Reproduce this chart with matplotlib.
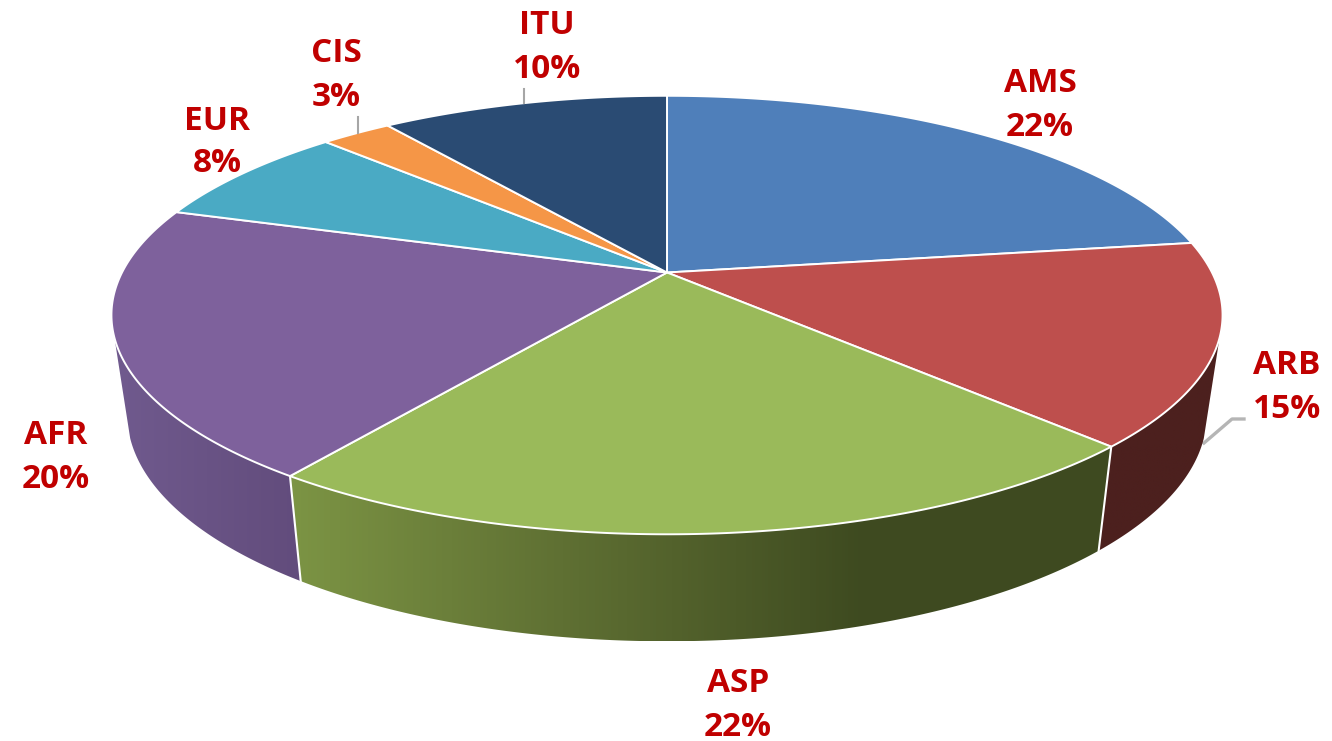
import numpy as np
import matplotlib
matplotlib.use("Agg")
import matplotlib.pyplot as plt
from matplotlib.patches import Polygon
from matplotlib.colors import LinearSegmentedColormap

categories = ["AMS", "ARB", "ASP", "AFR", "EUR", "CIS", "ITU"]
shares = [22.7, 14.9, 22.3, 20.0, 7.5, 2.5, 10.1]      # slice sizes as drawn
pct_labels = ["22%", "15%", "22%", "20%", "8%", "3%", "10%"]  # printed labels
top_colors = ["#4F7FBA", "#BE4F4D", "#9ABA5A", "#7E619C", "#4AAAC4", "#F59647", "#2A4B73"]

CX, CY = 667.0, 272.5
A, B, K = 545.0, 211.0, 0.194
SX = 0.9716
SIL_R, SIL_L = 107.0, 253.0     # silhouette angles where the side wall starts/ends

def top_pt(deg):
    t = np.radians(np.asarray(deg, float))
    u, v = np.sin(t), np.cos(t)
    d = 1 + K * v
    return CX + A * u / d, CY - B * v / d

def bot_pt(deg):
    x, y = top_pt(deg)
    return CX + SX * (x - CX), y + 104 + 0.034 * (y - 446)

fig = plt.figure(figsize=(13.32, 7.41), dpi=100)
ax = fig.add_axes([0, 0, 1, 1])
ax.set_xlim(0, 1332); ax.set_ylim(741, 0); ax.axis("off")

edges = np.concatenate([[0], np.cumsum(shares)]) / np.sum(shares) * 360

side_maps = {
    "ARB": [(0, "#4C201E"), (1, "#4C201E")],
    "ASP": [(0, "#7C9444"), (0.33, "#5F7033"), (0.70, "#3E4A20"), (1, "#3E4A20")],
    "AFR": [(0, "#705A8E"), (1, "#624C7C")],
}

# side walls
for i, name in enumerate(categories):
    if name not in side_maps:
        continue
    a0, a1 = max(edges[i], SIL_R), min(edges[i + 1], SIL_L)
    th = np.linspace(a0, a1, 160)
    xt, yt = top_pt(th)
    xb, yb = bot_pt(th)
    poly = np.column_stack([np.r_[xt, xb[::-1]], np.r_[yt, yb[::-1]]])
    patch = Polygon(poly, closed=True, fc="none", ec="none", transform=ax.transData)
    ax.add_patch(patch)
    cmap = LinearSegmentedColormap.from_list(name, side_maps[name])
    g = np.linspace(0, 1, 256).reshape(1, -1)
    if name == "ARB":
        g = g[:, ::-1]
    x0, x1 = poly[:, 0].min(), poly[:, 0].max()
    y0, y1 = poly[:, 1].min(), poly[:, 1].max()
    im = ax.imshow(g, extent=[x0, x1, y1, y0], cmap=cmap, vmin=0, vmax=1,
                   aspect="auto", zorder=1, interpolation="bilinear")
    im.set_clip_path(patch)

# white seams between side walls
for deg in edges[2:4]:
    xt, yt = top_pt(deg); xb, yb = bot_pt(deg)
    ax.plot([xt, xb], [yt, yb], color="white", lw=1.5, zorder=2)

# top face
for i, name in enumerate(categories):
    th = np.linspace(edges[i], edges[i + 1], 200)
    x, y = top_pt(th)
    poly = np.column_stack([np.r_[CX, x], np.r_[CY, y]])
    ax.add_patch(Polygon(poly, closed=True, fc=top_colors[i], ec="white", lw=1.4,
                         joinstyle="round", zorder=3))

ax.set_xlim(0, 1332); ax.set_ylim(741, 0)

# leader lines
grey = "#A6A6A6"
ax.plot([523.5, 523.5], [89, 103], color=grey, lw=1.5, zorder=4)
ax.plot([358, 358], [117, 133], color=grey, lw=1.5, zorder=4)
ax.plot([1204, 1232, 1244], [443, 419, 419], color="#B5B5B5", lw=2.4, zorder=0)

# labels: (x, name line y, percent line y)
label_xy = {"AMS": (1040, 80, 124), "ARB": (1287, 362, 405), "ASP": (738, 680, 723),
            "AFR": (56, 431, 475), "EUR": (217, 117, 159), "CIS": (336, 50, 93),
            "ITU": (547, 22, 66)}
for name, pct in zip(categories, pct_labels):
    x, y1, y2 = label_xy[name]
    for s, y in ((name, y1), (pct, y2)):
        ax.text(x, y, s, ha="center", va="center_baseline", color="#C00000",
                fontsize=24, fontweight="bold", family="Open Sans", zorder=5)

fig.savefig("out.png", dpi=100, facecolor="white")
